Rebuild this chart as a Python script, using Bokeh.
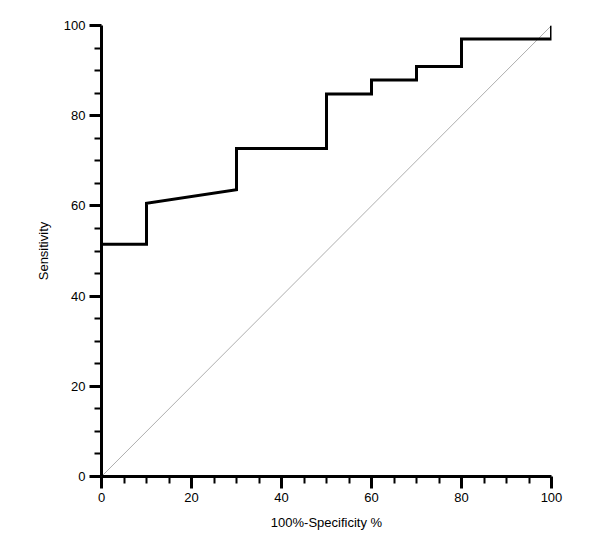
from bokeh.plotting import figure
from bokeh.models import Range1d, FixedTicker
from bokeh.embed import file_html
from bokeh.resources import INLINE

# ROC curve data (100% - specificity, sensitivity), in %
fpr = [0, 10, 10, 30, 30, 50, 50, 60, 60, 70, 70, 80, 80, 100, 100]
tpr = [51.5, 51.5, 60.6, 63.6, 72.7, 72.7, 84.8, 84.8, 87.9, 87.9, 90.9, 90.9, 97.0, 97.0, 100]
ref_x = [0, 100]
ref_y = [0, 100]
major_ticks = [0, 20, 40, 60, 80, 100]
minor_ticks = [5, 10, 15, 25, 30, 35, 45, 50, 55, 65, 70, 75, 85, 90, 95]

p = figure(width=600, height=551, output_backend="svg", toolbar_location=None,
           x_range=Range1d(0, 100), y_range=Range1d(0, 100),
           min_border_left=101, min_border_right=49, min_border_top=25, min_border_bottom=75)
p.outline_line_color = None
p.grid.visible = False
p.background_fill_color = "white"
p.border_fill_color = "white"

p.line(ref_x, ref_y, line_color="#999999", line_width=0.8)
p.line(fpr, tpr, line_color="black", line_width=3, line_join="miter")

for ax in (p.xaxis[0], p.yaxis[0]):
    ax.ticker = FixedTicker(ticks=major_ticks, minor_ticks=minor_ticks)
    ax.axis_line_width = 3
    ax.axis_line_color = "black"
    ax.major_tick_line_width = 3
    ax.major_tick_line_color = "black"
    ax.major_tick_out = 12
    ax.major_tick_in = 0
    ax.minor_tick_line_width = 2
    ax.minor_tick_line_color = "black"
    ax.minor_tick_out = 7
    ax.minor_tick_in = 0
    ax.major_label_text_font = "Liberation Sans"
    ax.major_label_text_font_size = "13px"
    ax.major_label_text_color = "black"
    ax.major_label_standoff = 4
    ax.axis_label_text_font = "Liberation Sans"
    ax.axis_label_text_font_size = "13px"
    ax.axis_label_text_font_style = "normal"
    ax.axis_label_text_color = "black"
    ax.axis_label_standoff = 10

p.xaxis.axis_label = "100%-Specificity %"
p.yaxis.axis_label = "Sensitivity"

open("out.html", "w").write(file_html(p, INLINE))
